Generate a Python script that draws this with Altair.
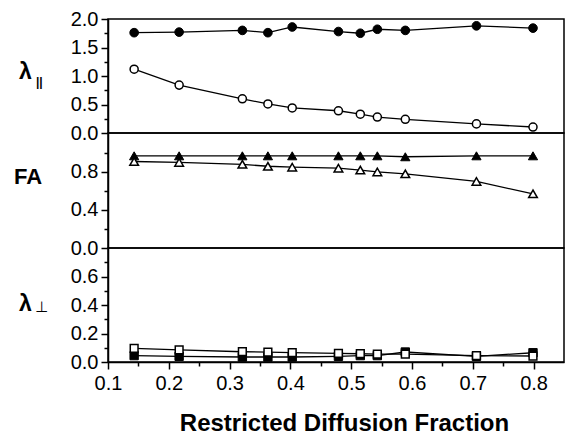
import altair as alt
import pandas as pd

# Restricted diffusion fraction (x) shared by all panels
x_vals = [0.143, 0.217, 0.321, 0.363, 0.403, 0.479, 0.515, 0.543, 0.589, 0.706, 0.799]

# Panel 1: lambda parallel
lpar_filled = [1.76, 1.77, 1.80, 1.76, 1.86, 1.78, 1.75, 1.82, 1.80, 1.88, 1.84]
lpar_open = [1.12, 0.84, 0.60, 0.51, 0.44, 0.39, 0.33, 0.28, 0.24, 0.16, 0.105]

# Panel 2: FA
fa_filled = [0.97, 0.97, 0.97, 0.97, 0.97, 0.97, 0.97, 0.97, 0.96, 0.97, 0.97]
fa_open = [0.91, 0.90, 0.88, 0.86, 0.85, 0.84, 0.82, 0.80, 0.78, 0.70, 0.57]

# Panel 3: lambda perpendicular
lperp_filled = [0.045, 0.040, 0.035, 0.035, 0.035, 0.040, 0.045, 0.045, 0.070, 0.040, 0.065]
lperp_open = [0.095, 0.085, 0.072, 0.070, 0.066, 0.060, 0.058, 0.055, 0.055, 0.045, 0.042]

x_ticks = [0.1, 0.15, 0.2, 0.25, 0.3, 0.35, 0.4, 0.45, 0.5, 0.55, 0.6, 0.65, 0.7, 0.75, 0.8]
top_ticks = [0.0, 0.25, 0.5, 0.75, 1.0, 1.25, 1.5, 1.75, 2.0]
mid_ticks = [0.0, 0.2, 0.4, 0.6, 0.8, 1.0]
bot_ticks = [0.0, 0.1, 0.2, 0.3, 0.4, 0.5, 0.6, 0.7]

FONT = "Liberation Sans"
W = 456


def major_test(step):
    return f"abs(datum.value/{step} - round(datum.value/{step})) < 0.001"


def y_axis(values, step):
    t = major_test(step)
    return alt.Axis(
        values=values,
        labelExpr=f"{t} ? format(datum.value, '.1f') : ''",
        tickSize={"condition": {"test": t, "value": 7}, "value": 4},
        title=None,
        grid=False,
        labelOverlap=False,
        labelPadding=3,
    )


x_axis = alt.Axis(
    values=x_ticks,
    labelExpr=f"{major_test(0.1)} ? format(datum.value, '.1f') : ''",
    tickSize={"condition": {"test": major_test(0.1), "value": 7}, "value": 4},
    labelFlush=False,
    labelOverlap=False,
    labelPadding=4,
    grid=False,
    title="Restricted Diffusion Fraction",
    titleFont=FONT,
    titleFontSize=24,
    titleFontWeight="bold",
    titleColor="black",
    titlePadding=18,
    titleX=236,
    titleAnchor="start",
    titleAlign="center",
)

xscale = alt.Scale(domain=[0.1, 0.85], nice=False, zero=False)


def panel(filled, opened, shape, msize, ydomain, yticks, ystep, height, show_x, labels):
    df_f = pd.DataFrame({"x": x_vals, "y": filled})
    df_o = pd.DataFrame({"x": x_vals, "y": opened})
    xenc = alt.X("x:Q", scale=xscale, axis=x_axis if show_x else None)
    yenc = alt.Y("y:Q", scale=alt.Scale(domain=ydomain, nice=False, zero=False),
                 axis=y_axis(yticks, ystep))
    line_f = alt.Chart(df_f).mark_line(color="black", strokeWidth=1.3).encode(x=xenc, y=yenc)
    line_o = alt.Chart(df_o).mark_line(color="black", strokeWidth=1.3).encode(x=xenc, y=yenc)
    pts_f = alt.Chart(df_f).mark_point(
        shape=shape, filled=True, fill="black", stroke="black", strokeWidth=1,
        size=msize, opacity=1
    ).encode(x=xenc, y=yenc)
    pts_o = alt.Chart(df_o).mark_point(
        shape=shape, filled=True, fill="white", stroke="black", strokeWidth=1.5,
        size=msize - 10, opacity=1, fillOpacity=1
    ).encode(x=xenc, y=yenc)
    layers = [line_f, line_o, pts_f, pts_o]
    one = alt.Data(values=[{"k": 0}])
    for txt, px, py, fs, fam, wt in labels:
        layers.append(
            alt.Chart(one).mark_text(
                text=txt, font=fam, fontSize=fs, fontWeight=wt, color="black",
                align="left", baseline="alphabetic"
            ).encode(x=alt.value(px), y=alt.value(py))
        )
    return alt.layer(*layers).properties(width=W, height=height)


top = panel(lpar_filled, lpar_open, "circle", 75, [0, 2.0], top_ticks, 0.5, 114, False,
            [("λ", -89, 60, 23, FONT, "bold"), ("||", -72, 67, 12, FONT, "bold")])
mid = panel(fa_filled, fa_open, "triangle-up", 85, [0, 1.21], mid_ticks, 0.4, 115, False,
            [("FA", -94, 51, 22, FONT, "bold")])
bot = panel(lperp_filled, lperp_open, "square", 70, [0, 0.8], bot_ticks, 0.2, 114, True,
            [("λ", -89, 63, 23, FONT, "bold"), ("⊥", -73, 64, 15, "DejaVu Sans", "normal")])

chart = alt.vconcat(top, mid, bot, spacing=0, bounds="flush").properties(
    padding={"left": 13, "top": 8, "right": 0, "bottom": 0},
    background="white",
).configure_view(
    stroke="black", strokeWidth=1.5
).configure_axis(
    domainColor="black", domainWidth=1.5, tickColor="black", tickWidth=1.5,
    labelFont=FONT, labelFontSize=20, labelColor="black",
)

chart.save("out.html", embed_options={"renderer": "svg", "actions": False})
